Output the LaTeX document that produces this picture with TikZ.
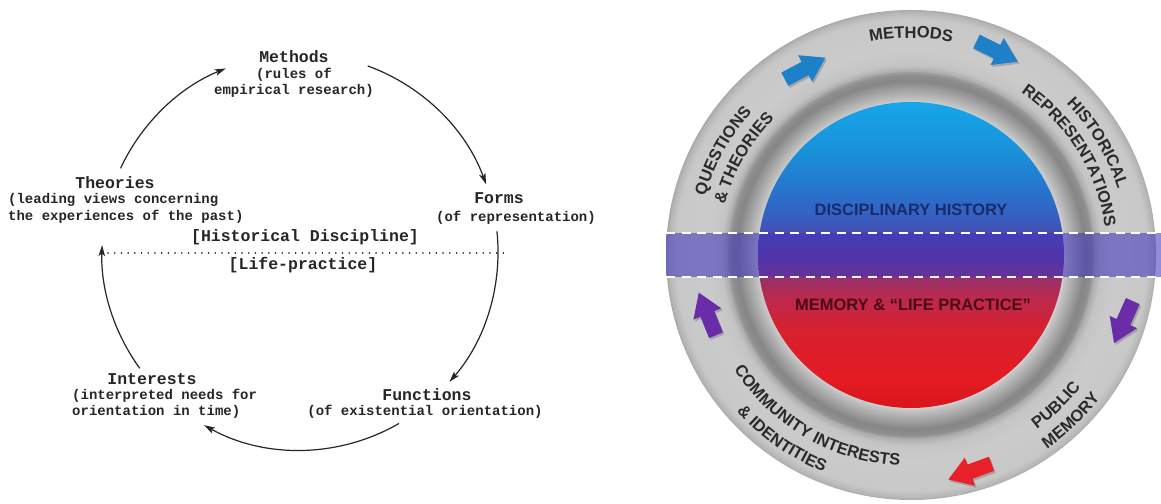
\documentclass[tikz,border=0pt]{standalone}
\usepackage{fontspec}
\setmainfont{Liberation Sans}
\newfontfamily\typefont{Liberation Mono}
\newfontfamily\labelfont{Liberation Sans}
\usetikzlibrary{arrows.meta,calc}

% left cycle
\definecolor{inkgray}{HTML}{262626}
% right ring
\definecolor{ringtxt}{HTML}{2A2A2A}
\definecolor{navytxt}{HTML}{1B2A6B}
\definecolor{maroontxt}{HTML}{4A0A18}
\definecolor{bandcol}{RGB}{63,51,186}
\definecolor{arrowblue}{HTML}{1E80C8}
\definecolor{arrowpurple}{HTML}{6A2CA8}
\definecolor{arrowred}{HTML}{E8202A}
% outer ring stops
\definecolor{rg0}{HTML}{C9C9C9}
\definecolor{rg1}{HTML}{A9A9A9}
\definecolor{rg2}{HTML}{C4C4C4}
\definecolor{rg3}{HTML}{CBCBCB}
\definecolor{rg4}{HTML}{C8C8C8}
\definecolor{rg5}{HTML}{B5B5B5}
\definecolor{rg6}{HTML}{A8A8A8}
% bezel stops
\definecolor{bz0}{HTML}{E2E8EE}
\definecolor{bz1}{HTML}{C8C8C8}
\definecolor{bz2}{HTML}{B4B4B4}
\definecolor{bz3}{HTML}{9A9A9A}
\definecolor{bz4}{HTML}{868686}
\definecolor{bz5}{HTML}{8E8E8E}
\definecolor{bz6}{HTML}{A0A0A0}
% disc stops, top to bottom
\definecolor{d0}{HTML}{16A6EA}
\definecolor{d1}{HTML}{1992DA}
\definecolor{d2}{HTML}{2774CC}
\definecolor{d3}{HTML}{3560C2}
\definecolor{d4}{HTML}{4A4CB0}
\definecolor{d5}{HTML}{66389A}
\definecolor{d6}{HTML}{94306E}
\definecolor{d7}{HTML}{B82A50}
\definecolor{d8}{HTML}{D8202E}
\definecolor{d9}{HTML}{E41B22}
\definecolor{d10}{HTML}{D8161C}

\pgfdeclareradialshading{ringshade}{\pgfpoint{0bp}{0bp}}{%
  color(0bp)=(rg0); color(18.67bp)=(rg1); color(19.39bp)=(rg2);
  color(20.9bp)=(rg3); color(24.08bp)=(rg4); color(24.8bp)=(rg5);
  color(25bp)=(rg6); color(50bp)=(rg6)}
\pgfdeclareradialshading{bezelshade}{\pgfpoint{0bp}{0bp}}{%
  color(0bp)=(bz0); color(20.63bp)=(bz0); color(21.04bp)=(bz1);
  color(21.86bp)=(bz2); color(22.95bp)=(bz3); color(23.77bp)=(bz4);
  color(24.59bp)=(bz5); color(25bp)=(bz6); color(50bp)=(bz6)}
\pgfdeclareverticalshading{discshade}{100bp}{%
  color(0bp)=(d10); color(25bp)=(d10); color(29.6bp)=(d9);
  color(37.7bp)=(d8); color(43.5bp)=(d7); color(46.4bp)=(d6);
  color(50bp)=(d5); color(53.3bp)=(d4); color(56.5bp)=(d3);
  color(60.6bp)=(d2); color(67.2bp)=(d1); color(75bp)=(d0);
  color(100bp)=(d0)}

% letters set one by one round the ring centre (C2);
% each letter comes with its advance width in 1/1000 em
\newcommand\ringfont{\labelfont\bfseries\fontsize{16.5}{18}\selectfont}
\newcommand\ringem{0.0165}
% #1 centre angle, #2 baseline radius, #3 1 = upper half / -1 = lower half,
% #4 list letter/width (~ is a space)
\newcommand\arclabel[4]{%
  \gdef\lbltot{0}%
  \foreach \ch/\w in {#4}{\pgfmathsetmacro\lbltmp{\lbltot+\w}\xdef\lbltot{\lbltmp}}%
  \gdef\lblacc{0}%
  \foreach \ch/\w in {#4}{%
    \pgfmathsetmacro\lblang{#1+(#3)*(\lbltot/2-\lblacc-\w/2)*\ringem/#2*57.29578}%
    \pgfmathsetmacro\lblrot{\lblang-(#3)*90}%
    \node[anchor=base, rotate=\lblrot, inner sep=0pt, font=\ringfont,
      text=ringtxt] at ($(C2)+(\lblang:#2)$) {\ch};
    \pgfmathsetmacro\lbltmp{\lblacc+\w}\xdef\lblacc{\lbltmp}%
  }%
}

\begin{document}
\begin{tikzpicture}[x=1pt,y=1pt,
  ttl/.style={font=\typefont\bfseries\fontsize{16.5}{18}\selectfont,
    text=inkgray, inner sep=0pt},
  subttl/.style={font=\typefont\bfseries\fontsize{14}{16.5}\selectfont,
    text=inkgray, inner sep=0pt},
  cyclearrow/.style={draw=inkgray, line width=1.2pt,
    -{Stealth[length=11pt,width=6.5pt,inset=2.5pt]}},
  divider/.style={draw=inkgray, line width=1.6pt, line cap=round,
    dash pattern=on 0.1pt off 6.6pt},
  disctxt/.style={font=\labelfont\bfseries\fontsize{16.5}{18}\selectfont,
    inner sep=0pt},
  banddash/.style={draw=white, line width=2.6pt,
    dash pattern=on 9pt off 6.5pt},
  pics/blockarrow/.style={code={%
    \fill[#1] (-24,-7.5) -- (-1,-7.5) -- (-1,-15) -- (22,0) -- (-1,15)
      -- (-1,7.5) -- (-24,7.5) -- cycle;}}]

\useasboundingbox (0,0) rectangle (1161,503);
\fill[white] (0,0) rectangle (1161,503);

% ---------- cycle of historical thinking ----------
\coordinate (C1) at (300,251);

\node[ttl] (meth) at (294,446) {Methods};
\node[subttl, align=center] (methsub) at (294,420) {(rules of\\empirical research)};
\node[ttl] (theo) at (115,320) {Theories};
\node[subttl, align=left, anchor=west] (theosub) at (8,294.5)
  {(leading views concerning\\the experiences of the past)};
\node[ttl] (form) at (499,305) {Forms};
\node[subttl] (formsub) at (516,285) {(of representation)};
\node[ttl] (func) at (427,108) {Functions};
\node[subttl] (funcsub) at (425,91) {(of existential orientation)};
\node[ttl] (intr) at (152,124) {Interests};
\node[subttl, align=left, anchor=west] (intrsub) at (72,99)
  {(interpreted needs for\\orientation in time)};
\node[ttl] (disc) at (305,266) {[Historical Discipline]};
\node[ttl] (life) at (303,238) {[Life-practice]};

\coordinate (divL) at (108,250);
\coordinate (divR) at (509,250);
\draw[divider] (divL) -- (divR);

\coordinate (theo-out) at ($(C1)+(155:198)$);
\coordinate (meth-out) at ($(C1)+(70:198)$);
\coordinate (form-out) at ($(C1)+(6:198)$);
\coordinate (func-out) at ($(C1)+(-60:198)$);
\coordinate (intr-out) at ($(C1)+(216:198)$);
\draw[cyclearrow] (theo-out) arc[start angle=155, end angle=112, radius=198];
\draw[cyclearrow] (meth-out) arc[start angle=70, end angle=20, radius=198];
\draw[cyclearrow] (form-out) arc[start angle=6, end angle=-41, radius=198];
\draw[cyclearrow] (func-out) arc[start angle=-60, end angle=-119, radius=198];
\draw[cyclearrow] (intr-out) arc[start angle=216, end angle=178, radius=198];

% ---------- ring of disciplinary history and memory ----------
\coordinate (C2) at (911,248);
\shade[shading=ringshade] (C2) circle[radius=245];
\shade[shading=bezelshade] (C2) circle[radius=183];
\shade[shading=discshade] (C2) circle[radius=153];

\node[disctxt, text=navytxt] (dhist) at (911,293) {DISCIPLINARY HISTORY};
\node[disctxt, text=maroontxt] (mlife) at (913,198) {MEMORY \& “LIFE PRACTICE”};

% horizontal band between the two halves
\fill[bandcol, opacity=0.56] (666,226) rectangle (1161,270);
\coordinate (bandTL) at (666,270);
\coordinate (bandTR) at (1161,270);
\coordinate (bandBL) at (666,226);
\coordinate (bandBR) at (1161,226);
\draw[banddash] (bandTL) -- (bandTR);
\draw[banddash] (bandBL) -- (bandBR);

% labels set along the ring
\arclabel{90}{217}{1}{M/833,E/667,T/611,H/722,O/778,D/722,S/667}
\arclabel{151}{214}{1}{Q/778,U/722,E/667,S/667,T/611,I/278,O/778,N/722,S/667}
\arclabel{150}{193}{1}{\&/722,~/278,T/611,H/722,E/667,O/778,R/722,I/278,E/667,S/667}
\arclabel{31}{217}{1}{H/722,I/278,S/667,T/611,O/778,R/722,I/278,C/722,A/722,L/611}
\arclabel{32}{196}{1}{R/722,E/667,P/667,R/722,E/667,S/667,E/667,N/722,T/611,A/722,T/611,I/278,O/778,N/722,S/667}
\arclabel{-46}{215}{-1}{P/667,U/722,B/722,L/611,I/278,C/722}
\arclabel{-46}{237}{-1}{M/833,E/667,M/833,O/778,R/722,Y/667}
\arclabel{240}{211}{-1}{C/722,O/778,M/833,M/833,U/722,N/722,I/278,T/611,Y/667,~/278,I/278,N/722,T/611,E/667,R/722,E/667,S/667,T/611,S/667}
\arclabel{235}{234}{-1}{\&/722,~/278,I/278,D/722,E/667,N/722,T/611,I/278,T/611,I/278,E/667,S/667}

% block arrows running clockwise round the ring
\pic[rotate=28] at (807.5,433) {blockarrow={black,opacity=0.18}};
\pic[rotate=28] at (806,435) {blockarrow=arrowblue};
\pic[rotate=-26] at (999.5,449) {blockarrow={black,opacity=0.18}};
\pic[rotate=-26] at (998,451) {blockarrow=arrowblue};
\pic[rotate=-114] at (1124.5,178) {blockarrow={black,opacity=0.18}};
\pic[rotate=-114] at (1123,180) {blockarrow=arrowpurple};
\pic[rotate=-160] at (970.5,29) {blockarrow={black,opacity=0.18}};
\pic[rotate=-160] at (969,31) {blockarrow=arrowred};
\pic[rotate=112] at (708.5,188) {blockarrow={black,opacity=0.18}};
\pic[rotate=112] at (707,190) {blockarrow=arrowpurple};

\end{tikzpicture}
\end{document}
